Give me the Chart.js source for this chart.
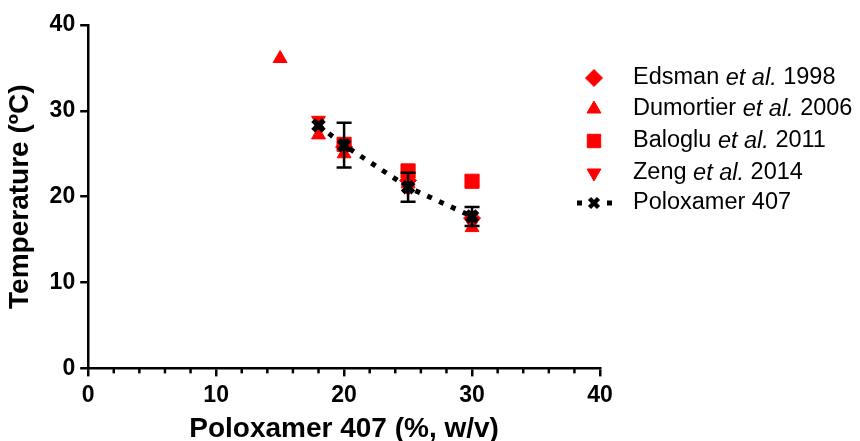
<!DOCTYPE html>
<html>
<head>
<meta charset="utf-8">
<script src="https://cdn.jsdelivr.net/npm/chart.js@4/dist/chart.umd.min.js"></script>
<style>
  html, body { margin: 0; padding: 0; background: #fff; }
  #wrap { position: relative; width: 860px; height: 441px; }
</style>
</head>
<body>
<div id="wrap"><canvas id="c" width="860" height="441"></canvas></div>
<script>
// values
const edsmanX = [20, 25, 30];
const edsmanY = [25.8, 21.9, 17.5];
const dumortierX = [15, 18, 20, 25, 30];
const dumortierY = [36.1, 27.2, 25.0, 21.5, 16.4];
const balogluX = [20, 25, 30];
const balogluY = [26.1, 23.0, 21.8];
const zengX = [18, 20, 25, 30];
const zengY = [28.9, 25.5, 21.0, 16.9];
const poloX = [18, 20, 25, 30];
const poloY = [28.3, 26.0, 21.1, 17.7];
const poloErr = [0, 2.6, 1.7, 1.1];
const xTicks = [0, 10, 20, 30, 40];
const yTicks = [0, 10, 20, 30, 40];

const RED = '#ff0000';
const FONT = 'Arial, "Liberation Sans", sans-serif';

function pts(xs, ys) {
    return xs.map((x, i) => ({ x: x, y: ys[i] }));
}

const legendItems = [
    { pre: 'Edsman ', it: 'et al.', post: ' 1998', style: 'rectRot', r: 8.5, rot: 0 },
    { pre: 'Dumortier ', it: 'et al.', post: ' 2006', style: 'triangle', r: 8, rot: 0 },
    { pre: 'Baloglu ', it: 'et al.', post: ' 2011', style: 'rect', r: 9.5, rot: 0 },
    { pre: 'Zeng ', it: 'et al.', post: ' 2014', style: 'triangle', r: 8, rot: 180 },
    { pre: 'Poloxamer 407', it: '', post: '', style: 'polo' }
];

// error bars for the Poloxamer 407 mean
const errorBars = {
    id: 'errorBars',
    afterDatasetsDraw(chart) {
        const ctx = chart.ctx;
        const xs = chart.scales.x, ys = chart.scales.y;
        ctx.save();
        ctx.strokeStyle = '#000';
        ctx.lineWidth = 2.5;
        poloX.forEach((x, i) => {
            if (!poloErr[i]) return;
            const px = xs.getPixelForValue(x);
            const top = ys.getPixelForValue(poloY[i] + poloErr[i]);
            const bot = ys.getPixelForValue(poloY[i] - poloErr[i]);
            ctx.beginPath();
            ctx.moveTo(px, top); ctx.lineTo(px, bot);
            ctx.moveTo(px - 7.5, top); ctx.lineTo(px + 7.5, top);
            ctx.moveTo(px - 7.5, bot); ctx.lineTo(px + 7.5, bot);
            ctx.stroke();
        });
        ctx.restore();
    }
};

// minor ticks on the x axis every 2 units
const minorTicks = {
    id: 'minorTicks',
    afterDraw(chart) {
        const ctx = chart.ctx;
        const xs = chart.scales.x;
        const y0 = chart.chartArea.bottom;
        ctx.save();
        ctx.strokeStyle = '#000';
        ctx.lineWidth = 2.5;
        for (let v = 2; v < 40; v += 2) {
            if (v % 10 === 0) continue;
            const px = xs.getPixelForValue(v);
            ctx.beginPath();
            ctx.moveTo(px, y0);
            ctx.lineTo(px, y0 + 5);
            ctx.stroke();
        }
        ctx.restore();
    }
};

// legend with italic "et al."
const sideLegend = {
    id: 'sideLegend',
    afterDraw(chart) {
        const ctx = chart.ctx;
        const rows = [78, 109, 141, 173, 203];
        const mx = 594, tx = 633;
        const fs = 23.5;
        ctx.save();
        legendItems.forEach((it, i) => {
            const y = rows[i];
            if (it.style === 'polo') {
                ctx.fillStyle = '#000';
                ctx.fillRect(577, y - 2.5, 5, 5);
                ctx.fillRect(607, y - 2.5, 5, 5);
                ctx.strokeStyle = '#000';
                ctx.lineWidth = 4.5;
                ctx.beginPath();
                ctx.moveTo(mx - 4.5, y - 4.5); ctx.lineTo(mx + 4.5, y + 4.5);
                ctx.moveTo(mx + 4.5, y - 4.5); ctx.lineTo(mx - 4.5, y + 4.5);
                ctx.stroke();
            } else {
                ctx.fillStyle = RED;
                ctx.strokeStyle = RED;
                Chart.helpers.drawPoint(ctx, { pointStyle: it.style, radius: it.r, borderWidth: 1, rotation: it.rot }, mx, y);
            }
            ctx.fillStyle = '#000';
            ctx.textBaseline = 'middle';
            let x = tx;
            ctx.font = fs + 'px ' + FONT;
            ctx.fillText(it.pre, x, y);
            x += ctx.measureText(it.pre).width;
            if (it.it) {
                ctx.font = 'italic ' + fs + 'px ' + FONT;
                ctx.fillText(it.it, x, y);
                x += ctx.measureText(it.it).width;
                ctx.font = fs + 'px ' + FONT;
                ctx.fillText(it.post, x, y);
            }
        });
        ctx.restore();
    }
};

function redSet(label, xs, ys, style, r, rot) {
    return {
        label: label,
        data: pts(xs, ys),
        pointStyle: style,
        pointRadius: r,
        pointRotation: rot,
        backgroundColor: RED,
        borderColor: RED,
        borderWidth: 1,
        showLine: false,
        order: 2
    };
}

new Chart(document.getElementById('c'), {
    type: 'scatter',
    data: {
        datasets: [
            {
                label: 'Poloxamer 407',
                data: pts(poloX, poloY),
                showLine: true,
                borderColor: '#000',
                borderWidth: 5,
                borderDash: [5, 8],
                pointStyle: 'crossRot',
                pointRadius: 7.5,
                pointBorderWidth: 5.5,
                pointBorderColor: '#000',
                backgroundColor: '#000',
                order: 0
            },
            redSet('Edsman et al. 1998', edsmanX, edsmanY, 'rectRot', 8.5, 0),
            redSet('Dumortier et al. 2006', dumortierX, dumortierY, 'triangle', 8, 0),
            redSet('Baloglu et al. 2011', balogluX, balogluY, 'rect', 10, 0),
            redSet('Zeng et al. 2014', zengX, zengY, 'triangle', 8, 180)
        ]
    },
    options: {
        responsive: false,
        animation: false,
        layout: { padding: { top: 25, right: 260, left: 3, bottom: -2 } },
        plugins: { legend: { display: false }, tooltip: { enabled: false } },
        scales: {
            x: {
                type: 'linear',
                min: 0, max: 40,
                afterBuildTicks: (s) => { s.ticks = xTicks.map(v => ({ value: v })); },
                grid: { drawOnChartArea: false, drawTicks: true, tickLength: 8, color: '#000', lineWidth: 2.5 },
                border: { color: '#000', width: 2.5 },
                ticks: { color: '#000', font: { family: FONT, size: 23, weight: 'bold' }, padding: 5.5, maxRotation: 0 },
                title: { display: true, text: 'Poloxamer 407 (%, w/v)', color: '#000', font: { family: FONT, size: 28, weight: 'bold', lineHeight: 1.0 }, padding: { top: 0, bottom: 0 } }
            },
            y: {
                type: 'linear',
                min: 0, max: 40,
                afterBuildTicks: (s) => { s.ticks = yTicks.map(v => ({ value: v })); },
                grid: { drawOnChartArea: false, drawTicks: true, tickLength: 8, color: '#000', lineWidth: 2.5 },
                border: { color: '#000', width: 2.5 },
                ticks: { color: '#000', font: { family: FONT, size: 23, weight: 'bold' }, padding: 5 },
                title: { display: true, text: 'Temperature (ºC)', color: '#000', font: { family: FONT, size: 28, weight: 'bold' }, padding: { top: 0, bottom: 8 } }
            }
        }
    },
    plugins: [errorBars, minorTicks, sideLegend]
});
</script>
</body>
</html>
